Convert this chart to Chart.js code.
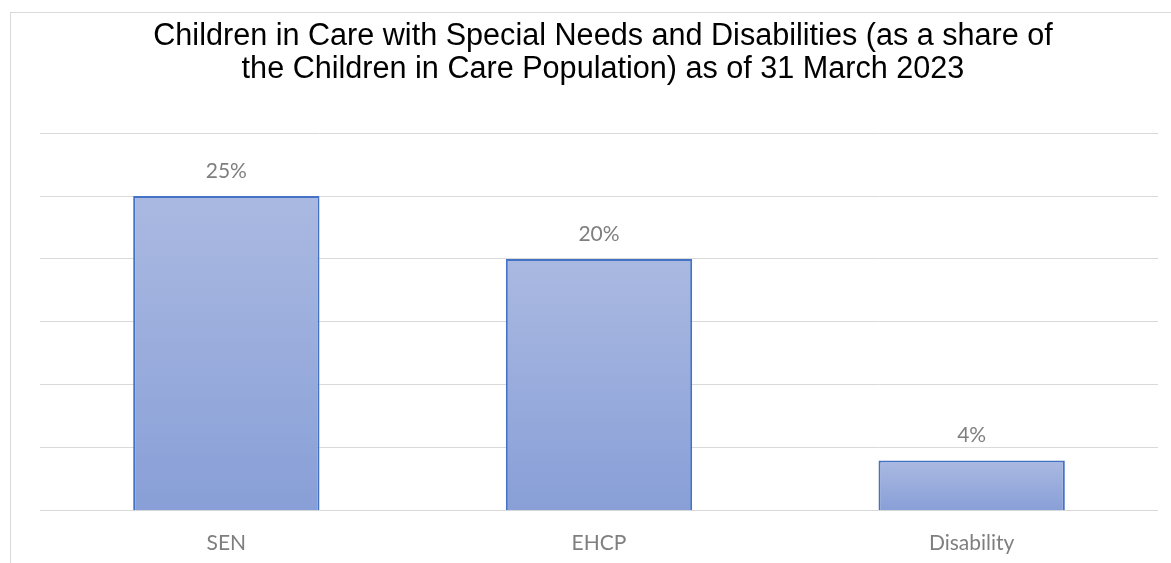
<!DOCTYPE html>
<html>
<head>
<meta charset="utf-8">
<script src="https://cdn.jsdelivr.net/npm/chart.js@4/dist/chart.umd.min.js"></script>
<style>
  html, body { margin: 0; padding: 0; background: #fff; overflow: hidden; }
  #frame {
    position: absolute; left: 10px; top: 12px; width: 1184px; height: 580px;
    border-top: 1px solid #d9d9d9; border-left: 1px solid #d9d9d9;
  }
  canvas { display: block; }
</style>
</head>
<body>
<div id="frame"><canvas id="chart" width="1184" height="580"></canvas></div>
<script>
const categories = ["SEN", "EHCP", "Disability"];
const shares = [25, 20, 4];
const titleLines = [
  "Children in Care with Special Needs and Disabilities (as a share of",
  "the Children in Care Population) as of 31 March 2023"
];

const labelFont = { family: "Lato, 'Open Sans', sans-serif", size: 21 };

// gradient per bar, light at the top, darker at the base
function barFill(ctx) {
  const chart = ctx.chart;
  const yScale = chart.scales.y;
  if (!chart.chartArea || !yScale) return "#98acdc";
  const top = yScale.getPixelForValue(ctx.raw);
  const base = yScale.getPixelForValue(0);
  const g = chart.ctx.createLinearGradient(0, top, 0, base);
  g.addColorStop(0, "#aab9e1");
  g.addColorStop(1, "#889fd7");
  return g;
}

// value labels above each bar
const valueLabels = {
  id: "valueLabels",
  afterDatasetsDraw(chart) {
    const c = chart.ctx;
    const meta = chart.getDatasetMeta(0);
    c.save();
    c.font = `${labelFont.size}px ${labelFont.family}`;
    c.fillStyle = "#7f7f7f";
    c.textAlign = "center";
    c.textBaseline = "middle";
    meta.data.forEach((bar, i) => {
      c.fillText(shares[i] + "%", bar.x, bar.y - 25);
    });
    c.restore();
  }
};

new Chart(document.getElementById("chart"), {
  type: "bar",
  data: {
    labels: categories,
    datasets: [{
      data: shares,
      backgroundColor: barFill,
      borderColor: "#4472c4",
      borderWidth: 2,
      borderSkipped: "bottom",
      categoryPercentage: 0.5,
      barPercentage: 1
    }]
  },
  options: {
    responsive: false,
    animation: false,
    layout: { padding: { top: 0, bottom: 25, left: 0, right: 0 } },
    plugins: {
      legend: { display: false },
      tooltip: { enabled: false },
      title: {
        display: true,
        text: titleLines,
        color: "#000",
        font: { family: "'Liberation Sans', Arial, sans-serif", size: 30.6, weight: "normal", lineHeight: 1.08 },
        padding: { top: 7, bottom: 47 }
      }
    },
    scales: {
      x: {
        grid: { display: false },
        border: { display: false },
        ticks: { color: "#7f7f7f", font: labelFont, padding: 12 }
      },
      y: {
        min: 0,
        max: 30,
        afterFit(s) { s.width = 29; },
        ticks: { display: false, stepSize: 5 },
        grid: { color: "#d9d9d9", lineWidth: 1, drawTicks: false },
        border: { display: false }
      },
      yr: {
        position: "right",
        afterFit(s) { s.width = 37; },
        ticks: { display: false },
        grid: { display: false },
        border: { display: false }
      }
    }
  },
  plugins: [valueLabels]
});
</script>
</body>
</html>
